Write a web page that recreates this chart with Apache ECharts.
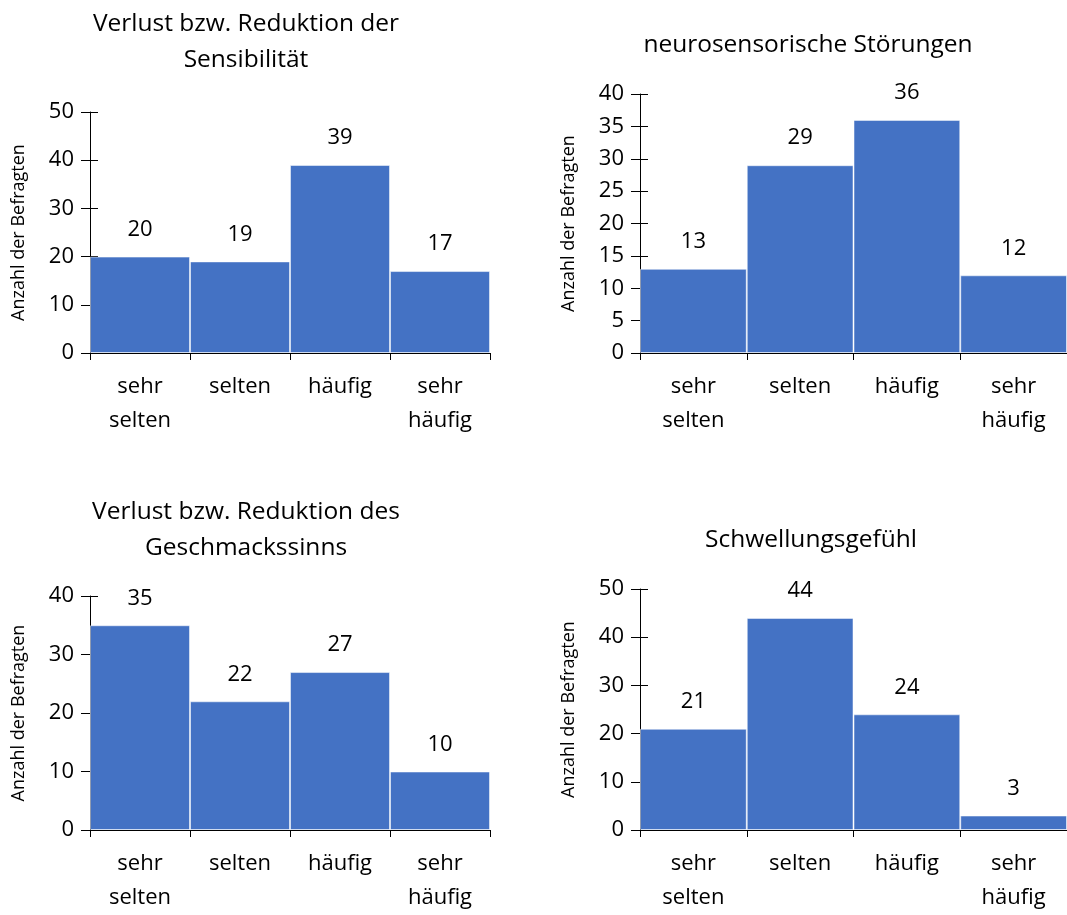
<!DOCTYPE html>
<html>
<head>
<meta charset="utf-8">
<script src="https://cdn.jsdelivr.net/npm/echarts@6/dist/echarts.min.js"></script>
<style>html,body{margin:0;padding:0;background:#fff}#c{width:1067px;height:915px}</style>
</head>
<body>
<div id="c"></div>
<script>
const categories = ['sehr\nselten', 'selten', 'häufig', 'sehr\nhäufig'];
const chartTitles = ['Verlust bzw. Reduktion der\nSensibilität', 'neurosensorische Störungen', 'Verlust bzw. Reduktion des\nGeschmackssinns', 'Schwellungsgefühl'];
const yAxisName = 'Anzahl der Befragten';
const sensibilitaet = [20, 19, 39, 17];
const neurosensorisch = [13, 29, 36, 12];
const geschmack = [35, 22, 27, 10];
const schwellung = [21, 44, 24, 3];
const yMax = [50, 40, 40, 50];
const yInterval = [10, 5, 10, 10];

const seriesData = [sensibilitaet, neurosensorisch, geschmack, schwellung];
const FONT = '"Open Sans", "Noto Sans", sans-serif';
const grids = [
  {left: 90, top: 112, width: 400, height: 241},
  {left: 640, top: 94, width: 432, height: 259},
  {left: 90, top: 596, width: 400, height: 238},
  {left: 640, top: 589, width: 432, height: 245}
];
const titlePos = [[246, 42], [808, 45], [246, 530], [811, 540]];

const option = {
  animation: false,
  backgroundColor: '#fff',
  grid: grids,
  xAxis: [], yAxis: [], series: [],
  graphic: titlePos.map((p, i) => ({
    type: 'text', x: p[0], y: p[1],
    style: {text: chartTitles[i], align: 'center', verticalAlign: 'middle', fill: '#000',
      font: '24.5px ' + FONT, lineHeight: 36}
  }))
};
for (let i = 0; i < 4; i++) {
  option.xAxis.push({
    type: 'category', gridIndex: i, data: categories,
    axisLine: {lineStyle: {color: '#000', width: 1}},
    axisTick: {show: true, length: 7, lineStyle: {color: '#000'}},
    axisLabel: {color: '#000', fontSize: 22, fontFamily: FONT, margin: 17, lineHeight: 34, interval: 0}
  });
  option.yAxis.push({
    type: 'value', gridIndex: i, min: 0, max: yMax[i], interval: yInterval[i],
    name: yAxisName, nameLocation: 'middle', nameGap: 62,
    nameTextStyle: {color: '#000', fontSize: 18, fontFamily: FONT},
    axisLine: {show: true, lineStyle: {color: '#000'}},
    axisTick: {show: true, length: 9, lineStyle: {color: '#000'}},
    axisLabel: {color: '#000', fontSize: 22, fontFamily: FONT, margin: 16},
    splitLine: {show: false}
  });
  option.yAxis.push({
    type: 'value', gridIndex: i, min: 0, max: yMax[i], interval: yInterval[i], position: 'left',
    axisLine: {show: false},
    axisTick: {show: true, inside: true, length: 8, lineStyle: {color: '#000'}},
    axisLabel: {show: false}, splitLine: {show: false}
  });
  option.series.push({
    type: 'bar', xAxisIndex: i, yAxisIndex: 2 * i, data: seriesData[i],
    barCategoryGap: 0,
    itemStyle: {color: '#4472C4', borderColor: 'rgba(255,255,255,0.5)', borderWidth: 1},
    label: {show: true, position: 'top', distance: 16, color: '#000', fontSize: 22, fontFamily: FONT}
  });
}
const chart = echarts.init(document.getElementById('c'));
chart.setOption(option);
</script>
</body>
</html>
